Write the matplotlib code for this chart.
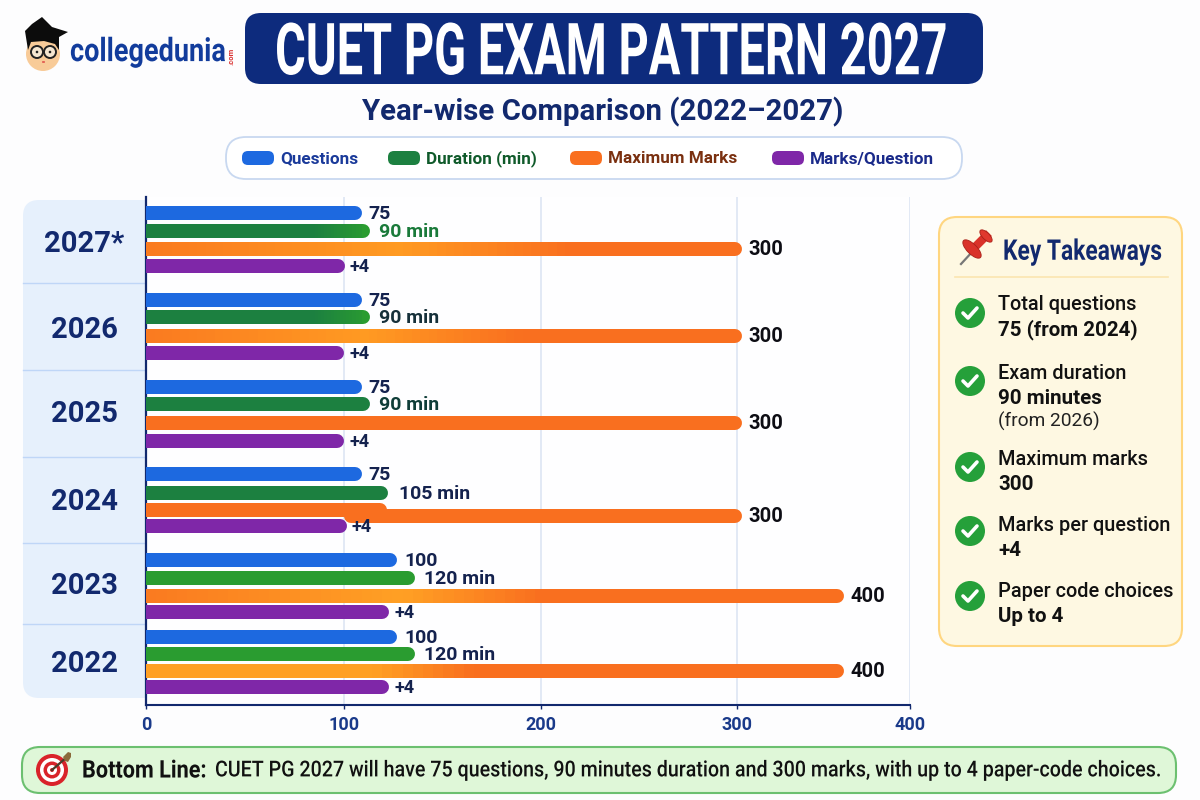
import numpy as np
import matplotlib
matplotlib.use('Agg')
import matplotlib.pyplot as plt
from matplotlib.colors import to_rgb
from matplotlib.patches import FancyBboxPatch, Circle, Ellipse, Polygon
from matplotlib.patheffects import AbstractPathEffect
from matplotlib.transforms import Affine2D

# values. bar lengths are what the axis shows, the
# printed labels are kept apart because the source bars are not to scale
years = ['2027*', '2026', '2025', '2024', '2023', '2022']
questions_bar = [109, 109, 109, 109, 127, 127]
duration_bar = [113, 113, 113, 122.5, 136, 136]
marks_bar = [303, 303, 303, 303, 362, 362]
per_question_bar = [100.5, 100, 100, 101.5, 123, 123]
marks_stub_2024 = 122

questions_labels = ['75', '75', '75', '75', '100', '100']
duration_labels = ['90 min', '90 min', '90 min', '105 min', '120 min', '120 min']
marks_labels = ['300', '300', '300', '300', '400', '400']
per_question_labels = ['+4', '+4', '+4', '+4', '+4', '+4']

x_ticks = [0, 100, 200, 300, 400]

takeaways = [('Total questions', '75 (from 2024)', None),
             ('Exam duration', '90 minutes', '(from 2026)'),
             ('Maximum marks', '300', None),
             ('Marks per question', '+4', None),
             ('Paper code choices', 'Up to 4', None)]

legend_names = ['Questions', 'Duration (min)', 'Maximum Marks', 'Marks/Question']

# layout, in pixels of the 1200x800 picture
tick_px = [146, 344, 541, 737, 910]
row_y = {'q': [213, 300, 387, 474, 560, 637],
         'd': [231, 317, 404, 493, 578, 654],
         'm': [249, 336, 423, 516, 596, 671],
         'p': [266, 353, 441, 526, 612, 687]}
year_y = [243, 328, 413, 500, 585, 662]
sep_y = [283, 370, 457, 543, 624]
check_y = [313, 381, 467, 531, 596]
bar_h = 14

NAVY = '#12296E'
BLUE = '#1D69E0'
GREEN = '#1C8040'
GREEN2 = '#2A9C30'
ORANGE = '#F96F1F'
AMBER = '#FF9A22'
PURPLE = '#7F27A8'
FONT = 'Roboto'

fig = plt.figure(figsize=(12, 8), dpi=100, facecolor='#FDFDFE')

bg = fig.add_axes([0, 0, 1, 1], zorder=0)
bg.set_xlim(0, 1200)
bg.set_ylim(800, 0)
bg.axis('off')


class StretchY(AbstractPathEffect):
    # no condensed font is installed, so tall narrow lettering is faked on the glyph outlines
    def __init__(self, y_px, factor):
        super().__init__()
        self.c = 800 - y_px
        self.factor = factor

    def draw_path(self, renderer, gc, tpath, affine, rgbFace=None):
        t = affine + Affine2D().translate(0, -self.c).scale(1, self.factor).translate(0, self.c)
        renderer.draw_path(gc, tpath, t, rgbFace)


def box(x0, y0, x1, y1, r, fc, ec='none', lw=1.0, zorder=1):
    p = FancyBboxPatch((x0, y0), x1 - x0, y1 - y0, boxstyle='round,pad=0,rounding_size=%s' % r,
                       fc=fc, ec=ec, lw=lw, zorder=zorder)
    bg.add_patch(p)


def txt(x, y, s, size, color='#111111', weight='medium', ha='left', stretch=None, **kw):
    y = y - 1.5
    t = bg.text(x, y, s, fontsize=size, color=color, fontweight=weight, ha=ha, va='center_baseline',
                family=FONT, zorder=5, **kw)
    if stretch:
        t.set_path_effects([StretchY(y, stretch)])


# logo
bg.add_patch(Ellipse((43, 54), 34, 34, fc='#F8CB98', zorder=2))
bg.add_patch(Polygon([(25, 31), (32, 24), (42, 17), (52, 27), (68, 32), (59, 37), (59, 50), (55, 44),
                      (44, 41), (31, 42), (28, 50)], fc='#0C0C0C', zorder=3))
for cx in (37, 50):
    bg.add_patch(Circle((cx, 52), 6, fc='#F5E6D0', ec='#222222', lw=1.4, zorder=4))
    bg.add_patch(Circle((cx, 52), 1.3, fc='#222222', zorder=5))
bg.plot([43, 44], [62, 62], color='#E0504A', lw=1.2, zorder=4)
txt(70, 50, 'collegedunia', 19.5, color='#123C9C', weight='bold', stretch=1.2)
txt(231, 52, '.com', 5.5, color='#D93030', weight='bold', ha='center', rotation=90)

# title and legend
box(245, 13, 983, 84, 16, '#0D2B7D')
txt(612, 49, 'CUET PG EXAM PATTERN 2027', 33.8, color='white', weight='bold', ha='center', stretch=1.53)
txt(603, 110, 'Year-wise Comparison (2022\u20132027)', 21.2, color=NAVY, weight='bold', ha='center')

box(226, 137, 962, 179, 20, 'white', ec='#C8D8F0', lw=1.3)
legend_x = [242, 388, 570, 772]
legend_col = [BLUE, GREEN, ORANGE, PURPLE]
legend_txt = ['#1A3A9A', '#0F5A2A', '#7A3010', '#1A2A8A']
for i in range(4):
    box(legend_x[i], 151, legend_x[i] + 32, 165, 6, legend_col[i], zorder=2)
    txt(legend_x[i] + 38, 158.5, legend_names[i], 12.3, color=legend_txt[i], weight='bold')

# year column behind the chart
box(23, 200, 170, 698, 16, '#E6F0FC')
for y in sep_y:
    bg.plot([23, 146], [y, y], color='#BFD6F7', lw=1, zorder=2)
for i in range(6):
    txt(84.5, year_y[i], years[i], 21, color=NAVY, weight='bold', ha='center')

# chart
ax = fig.add_axes([146 / 1200, 1 - 705 / 800, (910 - 146) / 1200, (705 - 197) / 800], zorder=2)
ax.set_facecolor('#FEFEFF')
knots_v = [-100] + x_ticks + [500]
knots_p = [-52] + tick_px + [1083]


def fwd(v):
    return np.interp(v, knots_v, knots_p)


def inv(p):
    return np.interp(p, knots_p, knots_v)


ax.set_xscale('function', functions=(fwd, inv))
ax.set_xlim(0, 400)
ax.set_ylim(705, 197)
ax.set_yticks([])
ax.set_xticks(x_ticks)
ax.minorticks_off()
ax.grid(axis='x', color='#DDE5F3', lw=1.2, zorder=0)
ax.set_axisbelow(True)
ax.tick_params(axis='x', length=3, width=1, color=NAVY, pad=5)
for lab in ax.get_xticklabels():
    lab.set_fontsize(13)
    lab.set_fontweight('bold')
    lab.set_family(FONT)
    lab.set_color('#1A3A8A')
ax.spines['top'].set_visible(False)
ax.spines['right'].set_visible(False)
ax.spines['left'].set_color(NAVY)
ax.spines['left'].set_linewidth(1.6)
ax.spines['bottom'].set_color(NAVY)
ax.spines['bottom'].set_linewidth(1.5)

cap_shift = Affine2D().translate(-bar_h / 2, 0)
lw_pt = bar_h * 72 / 100


def bar(y, v, stops, start=0):
    # rounded end comes from the line cap, the colour run from a thin mesh on top
    xs = [s[0] for s in stops]
    cols = np.array([to_rgb(s[1]) for s in stops])
    ax.plot([start, v], [y, y], color=stops[-1][1], lw=lw_pt, solid_capstyle='round',
            transform=ax.transData + cap_shift, zorder=3)
    if len(stops) > 1:
        edges = np.linspace(start, v - 4, 70)
        mids = (edges[:-1] + edges[1:]) / 2
        rgb = np.stack([np.interp(mids, xs, cols[:, k]) for k in range(3)], axis=1)
        ax.pcolormesh(edges, [y - bar_h / 2, y + bar_h / 2], rgb[np.newaxis, :, :],
                      shading='flat', antialiased=False, zorder=3.1)


def label(v, y, s, color, size, gap):
    ax.annotate(s, (v, y), xytext=(gap * 0.72, 0.8), textcoords='offset points', va='center_baseline',
                ha='left', fontsize=size, color=color, fontweight='bold', family=FONT, zorder=6,
                annotation_clip=False)


green_stops = [[(0, GREEN), (85, GREEN), (113, GREEN2)],
               [(0, GREEN), (85, GREEN), (113, GREEN2)],
               [(0, GREEN), (113, GREEN)],
               [(0, GREEN), (122, GREEN)],
               [(0, GREEN2), (136, GREEN2)],
               [(0, GREEN2), (136, GREEN2)]]
orange_stops = [[(0, '#FA7A20'), (128, AMBER), (215, ORANGE), (303, ORANGE)],
                [(0, '#FA7A20'), (112, AMBER), (190, ORANGE), (303, ORANGE)],
                [(0, ORANGE), (303, ORANGE)],
                [(0, ORANGE), (303, ORANGE)],
                [(0, '#FA7A20'), (130, '#FFA024'), (200, ORANGE), (362, ORANGE)],
                [(0, '#FFA024'), (115, '#FFA024'), (165, ORANGE), (362, ORANGE)]]
dur_colors = ['#1A7A3A', '#16303A', '#0F3D38', '#14224E', '#14224E', '#14224E']
dur_gap = [9, 9, 9, 11, 9, 9]

for i in range(6):
    bar(row_y['q'][i], questions_bar[i], [(0, BLUE)])
    label(questions_bar[i], row_y['q'][i], questions_labels[i], '#14224E', 14, 7)
    bar(row_y['d'][i], duration_bar[i], green_stops[i])
    label(duration_bar[i], row_y['d'][i], duration_labels[i], dur_colors[i], 14, dur_gap[i])
    bar(row_y['p'][i], per_question_bar[i], [(0, PURPLE)])
    label(per_question_bar[i], row_y['p'][i], per_question_labels[i], '#14224E', 13, 5)
    if years[i] == '2024':
        # the source draws this one bar broken in two, offset downward
        bar(510, marks_stub_2024, [(0, ORANGE)])
        bar(row_y['m'][i], marks_bar[i], [(107, ORANGE)], start=107)
    else:
        bar(row_y['m'][i], marks_bar[i], orange_stops[i])
    label(marks_bar[i], row_y['m'][i], marks_labels[i], '#0D0D14', 14.5, 6)

# key takeaways
box(939, 217, 1182, 646, 18, '#FEF8E2', ec='#FFD680', lw=1.5)
bg.plot([955, 1168], [277, 277], color='#FBE5B0', lw=1.2, zorder=2)
txt(1003, 250, 'Key Takeaways', 16.4, color=NAVY, weight='bold', stretch=1.25)
bg.plot([961, 973], [264, 251], color='#777777', lw=1.6, zorder=2)
bg.plot([973, 986], [249, 236], color='#D9322A', lw=6, zorder=3)
bg.add_patch(Ellipse((972, 249), 24, 10, angle=45, fc='#D9322A', ec='#A82018', lw=0.6, zorder=3))
bg.add_patch(Ellipse((986, 236), 16, 7, angle=45, fc='#E0382E', ec='#A82018', lw=0.6, zorder=3))

line_y = [(304, 329, None), (373, 398, 421), (459, 484, None), (525, 550, None), (591, 616, None)]
for i in range(5):
    cy = check_y[i]
    bg.add_patch(Circle((970, cy), 15, fc='#25A03A', zorder=2))
    bg.plot([963, 968, 977], [cy, cy + 5, cy - 5], color='white', lw=2.6, zorder=3,
            solid_capstyle='round', solid_joinstyle='round')
    top, strong, small = takeaways[i]
    txt(998, line_y[i][0], top, 14.3)
    txt(998, line_y[i][1], strong, 14.8, weight='bold')
    if small:
        txt(998, line_y[i][2], small, 13.8, weight='normal', color='#222222')

# bottom line
box(22, 747, 1176, 793, 18, '#DFF7D8', ec='#6CC070', lw=1.5)
for r, c in zip((16, 12, 8.5, 5, 2), ('#D9232A', 'white', '#D9232A', 'white', '#D9232A')):
    bg.add_patch(Circle((52, 770), r, fc=c, zorder=2))
bg.plot([52, 67], [770, 757], color='#4A3A28', lw=1.6, zorder=3)
bg.add_patch(Polygon([(63, 757), (68, 752), (71, 753), (71, 757), (68, 762), (65, 761)], fc='#8A6A3A', zorder=3))
txt(82, 769.5, 'Bottom Line:', 15.6, weight='bold', stretch=1.12)
txt(215, 769.5, 'CUET PG 2027 will have 75 questions, 90 minutes duration and 300 marks, with up to 4 paper-code choices.',
    14.15, stretch=1.12)

fig.savefig('out.png', dpi=100, facecolor=fig.get_facecolor())
